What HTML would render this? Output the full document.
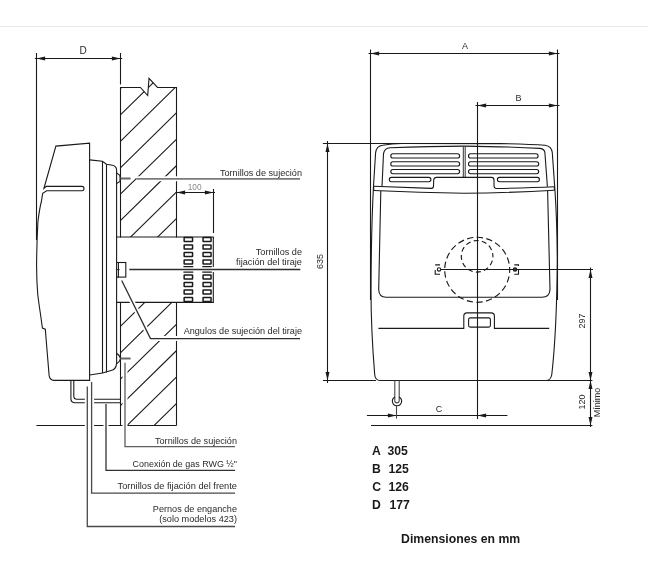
<!DOCTYPE html>
<html><head><meta charset="utf-8"><title>Dimensiones</title>
<style>
html,body{margin:0;padding:0;background:#fff;width:648px;height:572px;overflow:hidden}
svg{display:block;will-change:transform}
text{font-family:"Liberation Sans",sans-serif}
</style></head><body>
<svg width="648" height="572" viewBox="0 0 648 572">
<defs>
<clipPath id="wallTop"><path d="M120.6,87 L140.4,87 L147.7,95.5 L149,78.4 L157.5,87 L176.4,87 L176.4,237 L120.6,237 Z"/></clipPath>
<clipPath id="wallBot"><rect x="120.6" y="302" width="55.8" height="123.5"/></clipPath>
</defs>
<rect width="648" height="572" fill="#fff"/>
<!-- top gray rule -->
<line x1="0" y1="26.5" x2="648" y2="26.5" stroke="#e8e8e8" stroke-width="1"/>

<g fill="none" stroke="#1a1a1a" stroke-width="1.1">
<!-- ============ LEFT SIDE VIEW ============ -->
<!-- D dimension -->
<line x1="36.5" y1="53" x2="36.5" y2="240"/>
<line x1="120.5" y1="53" x2="120.5" y2="84.5"/>
<line x1="34.8" y1="58.5" x2="122.2" y2="58.5"/>

<!-- wall upper -->
<path d="M120.5,237.5 L120.5,87.5 L140.4,87.5 L147.7,95.5 L149,78.4 L157.5,87.5 L176.5,87.5 L176.5,237.5"/>
<g clip-path="url(#wallTop)">
<path d="M100,108.5 L230,-18.9 M100,134.9 L230,7.5 M100,161.3 L230,33.9 M100,187.8 L230,60.3 M100,214.2 L230,86.8 M100,240.6 L230,113.2 M100,267.0 L230,139.6 M100,293.5 L230,166.1 M100,319.9 L230,192.5"/>
</g>
<!-- wall lower -->
<path d="M120.5,302.5 L176.5,302.5 L176.5,425.5"/>
<line x1="120.5" y1="302" x2="120.5" y2="425.5"/>
<g clip-path="url(#wallBot)">
<path d="M100,319.9 L230,192.5 M100,346.3 L230,218.9 M100,372.8 L230,245.4 M100,399.2 L230,271.8 M100,425.6 L230,298.2 M100,452.0 L230,324.6 M100,478.5 L230,351.1 M100,504.9 L230,377.5"/>
</g>
<!-- floor -->
<line x1="36.4" y1="425.5" x2="176.5" y2="425.5"/>

<!-- flue pipe -->
<line x1="116.7" y1="237" x2="213.8" y2="237"/>
<line x1="116.7" y1="302.4" x2="213.8" y2="302.4"/>
<line x1="213.3" y1="237" x2="213.3" y2="267"/>
<line x1="213.3" y1="272" x2="213.3" y2="302.5"/>

<!-- 100 dimension -->
<line x1="213.5" y1="189" x2="213.5" y2="233"/>
<line x1="176.5" y1="192.5" x2="215" y2="192.5"/>

<!-- heater side: front body -->
<path d="M43.9,188.5 L55.9,146.1 L89.6,143.1 L89.6,380.4 L53.9,380.4 Q49.8,380.2 49.1,375.4 L46.6,345 L45.3,329.2 L42.4,328.1 L40.6,315 Q39.2,306 37.8,295 Q36.5,280 36.6,263.7 Q36.8,242 37.9,222 Q39.6,208 41.3,202 L42.7,193.4 L46.6,190.8 L82,190.8 Q84,190.8 84,188.6 Q84,186.4 82,186.4 L46.4,186.4 Z"/>
<!-- second section -->
<path d="M89.6,159.9 L102.4,161.2 L106.4,164.3 L112.5,165.2 Q116.4,166 116.6,170 L116.6,363.6 Q116,369.5 111,370.5 L102.5,373 L89.6,375"/>
<line x1="102.5" y1="161.2" x2="102.5" y2="373"/>
<line x1="106.5" y1="164.3" x2="106.5" y2="372.5"/>

<!-- screws -->
<path d="M116.6,172.9 L119.8,175.4 Q120.4,178.5 120,181.5 L116.6,183.4"/>
<path d="M116.8,353.5 Q120.5,356 120.5,358.6 Q120.5,361 116.8,363.6"/>
<rect x="118.4" y="262.5" width="7.4" height="14.6"/>
<line x1="116.6" y1="269.6" x2="119.6" y2="269.6" stroke-width="0.9"/>
<path d="M116.6,262.5 L118.4,262.5 M116.6,277.1 L118.4,277.1"/>

<!-- gas pipe L -->
<path d="M70.9,380.4 L70.9,398.5 Q70.9,402.7 75,402.7 L120.3,402.7"/>
<path d="M73.8,380.4 L73.8,396 Q73.8,399.3 77,399.3 L120.3,399.3"/>
</g>

<!-- flue squares -->
<g fill="none" stroke="#1a1a1a" stroke-width="1.5">
<rect x="184.15" y="237.55" width="8.40" height="4.00" rx="0.3"/>
<rect x="203.05" y="237.55" width="8.00" height="4.00" rx="0.3"/>
<rect x="184.15" y="245.05" width="8.40" height="4.00" rx="0.3"/>
<rect x="203.05" y="245.05" width="8.00" height="4.00" rx="0.3"/>
<rect x="184.15" y="252.55" width="8.40" height="4.00" rx="0.3"/>
<rect x="203.05" y="252.55" width="8.00" height="4.00" rx="0.3"/>
<rect x="184.15" y="260.05" width="8.40" height="4.00" rx="0.3"/>
<rect x="203.05" y="260.05" width="8.00" height="4.00" rx="0.3"/>
<rect x="184.15" y="275.05" width="8.40" height="4.00" rx="0.3"/>
<rect x="203.05" y="275.05" width="8.00" height="4.00" rx="0.3"/>
<rect x="184.15" y="282.55" width="8.40" height="4.00" rx="0.3"/>
<rect x="203.05" y="282.55" width="8.00" height="4.00" rx="0.3"/>
<rect x="184.15" y="290.05" width="8.40" height="4.00" rx="0.3"/>
<rect x="203.05" y="290.05" width="8.00" height="4.00" rx="0.3"/>
<rect x="184.15" y="297.55" width="8.40" height="4.00" rx="0.3"/>
<rect x="203.05" y="297.55" width="8.00" height="4.00" rx="0.3"/>
</g>

<!-- leaders (gray) with white halos -->
<g fill="none" stroke="#fff" stroke-width="5">
<line x1="136.2" y1="178.8" x2="300" y2="178.8"/>
<line x1="129.3" y1="269.5" x2="300.3" y2="269.5"/>
<path d="M122.6,282.3 L150.5,338.6 L300,338.6"/>
<line x1="125" y1="364.5" x2="125" y2="428"/>
<line x1="87.3" y1="388" x2="87.3" y2="428"/>
<line x1="91.6" y1="383.5" x2="91.6" y2="428"/>
<line x1="106" y1="405.5" x2="106" y2="428"/>
</g>
<g fill="none" stroke="#2e2e2e" stroke-width="1.3">
<line x1="136.2" y1="178.8" x2="300" y2="178.8" stroke="#7a7a7a" stroke-width="1.7"/>
<line x1="129.3" y1="269.5" x2="300.3" y2="269.5"/>
<path d="M121.7,280.5 L150.5,338.6 L300,338.6"/>
<line x1="120.5" y1="178.5" x2="130.6" y2="178.5" stroke="#666" stroke-width="2"/>
<line x1="120.5" y1="358.5" x2="130.6" y2="358.5" stroke="#666" stroke-width="2"/>
<path d="M125,362.8 L125,446.7 L235,446.7" stroke="#5e5e5e"/>
<path d="M106,403.9 L106,470.4 L235,470.4" stroke="#333"/>
<path d="M91.6,382 L91.6,493.1 L235,493.1" stroke="#4a4a4a"/>
<path d="M87.3,386.6 L87.3,526.5 L235,526.5" stroke="#4a4a4a"/>
</g>

<path d="M183.4,266.7 L193.3,266.7 M202.3,266.7 L211.8,266.7 M183.4,272.2 L193.3,272.2 M202.3,272.2 L211.8,272.2" fill="none" stroke="#1a1a1a" stroke-width="1.2"/>
<!-- arrows left -->
<g fill="#1a1a1a" stroke="none">
<polygon points="36.5,58.5 45.10,60.50 45.10,56.50"/>
<polygon points="120.5,58.5 111.90,56.50 111.90,60.50"/>
<polygon points="176.5,192.5 185.10,194.50 185.10,190.50"/>
<polygon points="213.5,192.5 204.90,190.50 204.90,194.50"/>
</g>

<!-- ============ RIGHT FRONT VIEW ============ -->
<g fill="none" stroke="#1a1a1a" stroke-width="1.1">
<!-- A dim -->
<line x1="370.5" y1="49.5" x2="370.5" y2="300"/>
<line x1="557.5" y1="49.5" x2="557.5" y2="300"/>
<line x1="368.5" y1="53.5" x2="559.5" y2="53.5"/>
<!-- B dim -->
<line x1="477.5" y1="102" x2="477.5" y2="419"/>
<line x1="475.5" y1="105.5" x2="559.5" y2="105.5"/>
<!-- 635 dim -->
<line x1="322.9" y1="143.5" x2="402" y2="143.5"/>
<line x1="327.5" y1="141" x2="327.5" y2="383"/>
<line x1="322.9" y1="380.5" x2="376" y2="380.5"/>
<!-- 297 / 120 dims -->
<line x1="440.7" y1="269.5" x2="593" y2="269.5"/>
<line x1="590.5" y1="267.5" x2="590.5" y2="427"/>
<line x1="546" y1="380.5" x2="592.4" y2="380.5"/>
<line x1="371" y1="425.5" x2="592.4" y2="425.5"/>
<!-- C dim -->
<line x1="366.9" y1="415.5" x2="507.4" y2="415.5"/>


<!-- heater outer -->
<path d="M382.6,145.2 Q392,143.5 402,143.5 L500,143.6 Q530,144.2 545,145.2 Q551.8,146.3 552.3,152.8 L555,191 Q557,220 557.3,260 Q556.8,330 551.8,374.5 Q550.8,380.5 546,380.5 L380,380.5 Q375.2,380.5 374.7,374.5 Q371,330 371,290 Q371.2,230 373.5,186 L375.6,152.8 Q376.5,145.8 382.6,145.2 Z"/>
<!-- grille inner panel -->
<path d="M382,186.5 L383.5,153.7 Q384.5,147.9 390,147.7 Q430,146.2 464,146.1 Q510,146.6 540,148.4 Q544.6,149 544.9,152.8 L547.4,186.7"/>
<!-- slots -->
<rect x="390.8" y="153.8" width="68.8" height="4.2" rx="2.1"/>
<rect x="390.8" y="161.7" width="68.8" height="4.3" rx="2.1"/>
<rect x="390.8" y="169.5" width="68.8" height="4.2" rx="2.1"/>
<rect x="389.3" y="177.4" width="41.6" height="4.3" rx="2.1"/>
<rect x="468.5" y="153.8" width="69.6" height="4.2" rx="2.1"/>
<rect x="468.5" y="161.7" width="70.2" height="4.3" rx="2.1"/>
<rect x="468.5" y="169.5" width="70.2" height="4.2" rx="2.1"/>
<rect x="497.4" y="177.4" width="42" height="4.3" rx="2.1"/>
<!-- center divider -->
<line x1="463.3" y1="146.2" x2="463.3" y2="177.4" stroke="#333" stroke-width="1"/>
<line x1="465.2" y1="146.2" x2="465.2" y2="177.4" stroke="#333" stroke-width="1"/>
<!-- grille bottom outline w/ tabs -->
<path d="M373.7,186.3 Q405,187.5 431.5,188.4 Q433.5,188.3 433.5,186 L433.7,180 Q434,177.4 436.6,177.4 L491.4,177.4 Q494,177.4 494,180 L494,186 Q494.2,188.5 496.5,188.5 Q530,187.8 554.4,186.7"/>
<path d="M373.7,190.5 Q420,192.8 464,193.3 Q510,192.8 554.4,190.2"/>
<line x1="373.7" y1="186.3" x2="373.7" y2="190.5"/>
<line x1="554.4" y1="186.7" x2="554.4" y2="190.2"/>
<!-- lower panel -->
<path d="M380.8,190.9 L378.7,289.5 Q379,297.3 386,297.3 L542,297.3 Q549.6,297.3 550,289.5 L547.6,190.7"/>
<!-- handle row -->
<path d="M378.4,328.4 L463.8,328.4 L463.8,316 Q463.8,312.9 467,312.9 L491.2,312.9 Q494.4,312.9 494.4,316 L494.4,328.4 L549.2,328.4"/>
<rect x="468.6" y="317.9" width="21.8" height="9.2" rx="1.6"/>
<!-- leg -->
<path d="M394.8,380.5 L394.8,400.7 A2.2,2.2 0 0 0 399.2,400.7 L399.2,380.5" stroke="#444"/>
<path d="M394.8,396.9 A4.7,4.7 0 1 0 399.2,396.9"/>
<line x1="396.5" y1="405.7" x2="396.5" y2="418.6" stroke="#444"/>
</g>
<!-- dashed circles -->
<g fill="none" stroke="#1a1a1a" stroke-width="1.15">
<circle cx="477.2" cy="269.8" r="32.5" stroke-dasharray="6.3 3.424" stroke-dashoffset="3.15"/>
<circle cx="477.1" cy="256.3" r="15.8" stroke-dasharray="5 3.272" stroke-dashoffset="3.9"/>
</g>
<!-- fixing holes -->
<g fill="none" stroke="#1a1a1a" stroke-width="1.1">
<circle cx="439" cy="269.4" r="1.7"/>
<circle cx="515" cy="269.4" r="1.7" fill="#333"/>
<path d="M435.2,264.9 L440,264.9 M435.2,270.1 L435.2,274.3 L440,274.3"/>
<path d="M514.3,264.9 L518.5,264.9 L518.5,266 M518.5,269.5 L518.5,274.3 L514.3,274.3"/>
</g>

<!-- right arrows -->
<g fill="#1a1a1a" stroke="none">
<polygon points="370.5,53.5 379.10,55.50 379.10,51.50"/>
<polygon points="557.5,53.5 548.90,51.50 548.90,55.50"/>
<polygon points="477.5,105.5 486.10,107.50 486.10,103.50"/>
<polygon points="557.5,105.5 548.90,103.50 548.90,107.50"/>
<polygon points="327.5,143.5 325.50,152.10 329.50,152.10"/>
<polygon points="327.5,380.5 329.50,371.90 325.50,371.90"/>
<polygon points="590.5,269.5 588.50,278.10 592.50,278.10"/>
<polygon points="590.5,380.5 592.50,371.90 588.50,371.90"/>
<polygon points="590.5,380.5 588.50,389.10 592.50,389.10"/>
<polygon points="590.5,425.5 592.50,416.90 588.50,416.90"/>
<polygon points="396.5,415.5 387.90,413.50 387.90,417.50"/>
<polygon points="477.5,415.5 486.10,417.50 486.10,413.50"/>
</g>

<!-- ============ TEXT ============ -->
<g fill="#2a2a2a" font-size="9">
<text x="83" y="53.9" text-anchor="middle" font-size="10">D</text>
<text x="465" y="49.3" text-anchor="middle">A</text>
<text x="518.5" y="101.2" text-anchor="middle">B</text>
<text x="439" y="412" text-anchor="middle">C</text>
<text x="194.6" y="189.7" text-anchor="middle" fill="#8a8a8a" font-size="9.4" textLength="13.8" lengthAdjust="spacingAndGlyphs">100</text>
<text x="302" y="175.8" text-anchor="end" textLength="82.1" lengthAdjust="spacingAndGlyphs">Tornillos de sujeción</text>
<text x="302" y="254.9" text-anchor="end" textLength="46.2" lengthAdjust="spacingAndGlyphs">Tornillos de</text>
<text x="302" y="265" text-anchor="end" textLength="65.9" lengthAdjust="spacingAndGlyphs">fijación del tiraje</text>
<text x="302" y="333.5" text-anchor="end" textLength="118.3" lengthAdjust="spacingAndGlyphs">Angulos de sujeción del tiraje</text>
<text x="237" y="444" text-anchor="end" textLength="82" lengthAdjust="spacingAndGlyphs">Tornillos de sujeción</text>
<text x="237" y="467" text-anchor="end" textLength="104.4" lengthAdjust="spacingAndGlyphs">Conexión de gas RWG ½"</text>
<text x="237" y="489.4" text-anchor="end" textLength="119.4" lengthAdjust="spacingAndGlyphs">Tornillos de fijación del frente</text>
<text x="237" y="512" text-anchor="end" textLength="84.2" lengthAdjust="spacingAndGlyphs">Pernos de enganche</text>
<text x="237" y="521.8" text-anchor="end" textLength="77.8" lengthAdjust="spacingAndGlyphs">(solo modelos 423)</text>
<text transform="translate(323.1,261.5) rotate(-90)" text-anchor="middle">635</text>
<text transform="translate(585,321) rotate(-90)" text-anchor="middle">297</text>
<text transform="translate(585,402) rotate(-90)" text-anchor="middle">120</text>
<text transform="translate(599.9,402.5) rotate(-90)" text-anchor="middle">Mínimo</text>
</g>
<g fill="#1a1a1a" font-size="12.2" font-weight="bold">
<text x="372" y="454.8">A</text><text x="387.5" y="454.8">305</text>
<text x="372" y="473">B</text><text x="388.4" y="473">125</text>
<text x="372.3" y="490.8">C</text><text x="388.4" y="490.8">126</text>
<text x="372" y="509">D</text><text x="389.4" y="509">177</text>
<text x="401.1" y="543.3" font-size="12.25">Dimensiones en mm</text>
</g>
</svg>
</body></html>
